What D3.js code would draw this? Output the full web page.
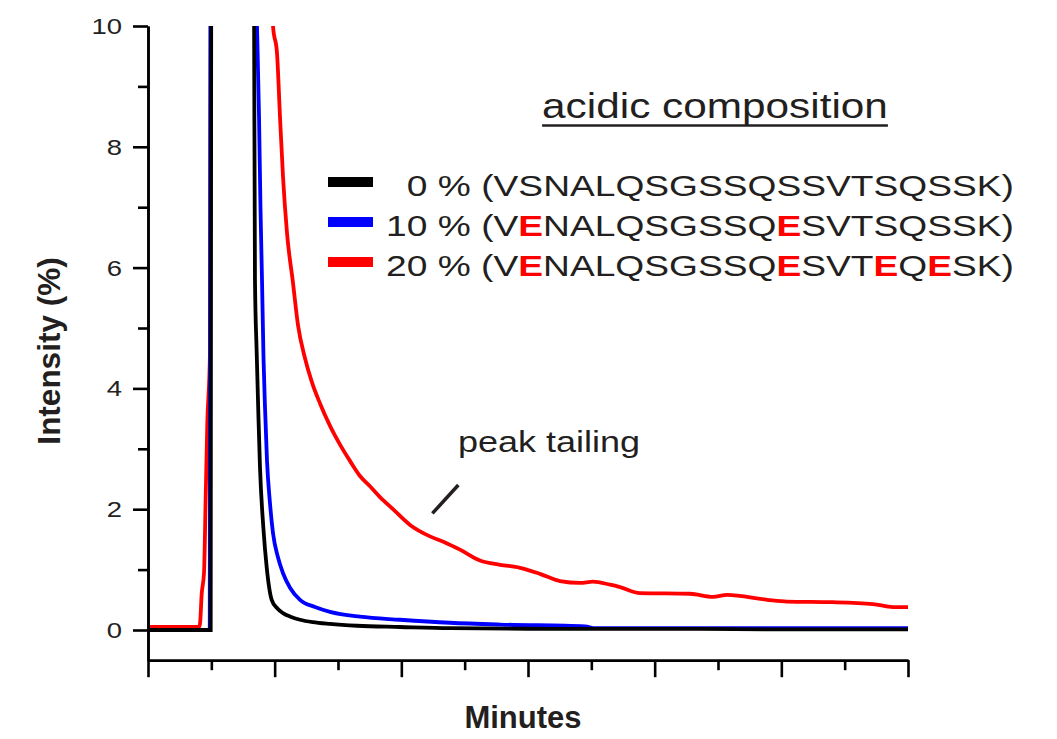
<!DOCTYPE html>
<html>
<head>
<meta charset="utf-8">
<script src="https://cdn.jsdelivr.net/npm/d3@7"></script>
<style>
  html, body { margin: 0; padding: 0; background: #fff; }
  svg { display: block; font-family: "Liberation Sans", Arial, sans-serif; }
</style>
</head>
<body>
<svg id="chart" width="1057" height="739"></svg>
<script>
// ---- data (x in minutes-like units on an unlabeled 0–12 axis, y in %) ----
const seriesNames = ["0 %", "10 %", "20 %"];
const sequences = [
  "VSNALQSGSSQSSVTSQSSK",
  "VENALQSGSSQESVTSQSSK",
  "VENALQSGSSQESVTEQESK"
];
const seriesColors = ["#000000", "#0000ff", "#ff0000"];

const blackX = [0, 0.990, 0.998, 1.33, 1.674, 1.689, 1.716, 1.742, 1.768, 1.821, 1.874, 1.953, 2.04, 2.132, 2.25, 2.400, 2.60, 2.874, 3.3, 3.979, 4.768, 6.347, 8.716, 9.821, 12];
const blackY = [0, 0, 10.5, 50, 10.5, 5.8, 4.6, 3.6, 2.7, 1.7, 1.04, 0.5, 0.36, 0.28, 0.22, 0.17, 0.13, 0.1, 0.07, 0.05, 0.03, 0.02, 0.02, 0.01, 0.01];

const blueX = [0, 0.975, 0.985, 1.35, 1.710, 1.721, 1.753, 1.776, 1.800, 1.824, 1.847, 1.879, 1.926, 1.974, 2.053, 2.132, 2.242, 2.400, 2.637, 2.874, 3.347, 3.979, 4.768, 5.558, 6.900, 7.058, 12];
const blueY = [0, 0, 10.5, 50, 10.5, 10, 8.5, 7, 5.8, 4.5, 3.7, 2.8, 2.1, 1.6, 1.2, 0.94, 0.7, 0.5, 0.38, 0.3, 0.22, 0.17, 0.12, 0.09, 0.06, 0.03, 0.03];

const redX = [0, 0.805, 0.821, 0.848, 0.884, 0.911, 0.936, 0.979, 0.987, 0.995, 1.45, 1.974, 2.037, 2.084, 2.132, 2.195, 2.289, 2.368, 2.479, 2.589, 2.716, 2.874, 3.032, 3.189, 3.347, 3.505, 3.663, 3.868, 4.137, 4.453, 4.689, 4.926, 5.242, 5.558, 5.874, 6.189, 6.505, 6.821, 7.026, 7.295, 7.453, 7.768, 8.558, 8.921, 9.142, 9.774, 10.089, 10.816, 11.447, 11.763, 12];
const redY = [0.05, 0.05, 0.1, 0.6, 0.94, 2.2, 3.4, 4.6, 8.3, 10.5, 60, 10, 9.55, 8.5, 7.5, 6.57, 5.75, 5.05, 4.5, 4.1, 3.75, 3.38, 3.07, 2.8, 2.55, 2.38, 2.2, 2.0, 1.74, 1.55, 1.45, 1.33, 1.15, 1.08, 1.03, 0.93, 0.81, 0.78, 0.8, 0.75, 0.71, 0.61, 0.6, 0.55, 0.58, 0.5, 0.47, 0.46, 0.43, 0.38, 0.38];

const yMajorTicks = [0, 2, 4, 6, 8, 10];
const yMinorTicks = [1, 3, 5, 7, 9];
const xMajorTicks = [0, 2, 4, 6, 8, 10, 12];
const xMinorTicks = [1, 3, 5, 7, 9, 11];

const legendTitle = "acidic composition";
const annotationText = "peak tailing";
const annotationLine = [[4.49, 1.93], [4.9, 2.4]];
const xTitle = "Minutes";
const yTitle = "Intensity (%)";

// ---- layout ----
const svg = d3.select("#chart");
const pLeft = 148, pRight = 908, pTop = 26, pBottom = 660.2;
const textColor = "#231f20";

const x = d3.scaleLinear().domain([0, 12]).range([pLeft, pRight]);
const y = d3.scaleLinear().domain([-0.5, 10]).range([pBottom, pTop]);

svg.append("defs").append("clipPath").attr("id", "plotclip")
  .append("rect").attr("x", pLeft).attr("y", pTop)
  .attr("width", pRight - pLeft + 2).attr("height", pBottom - pTop);

// ---- lines ----
const series = [
  { xs: redX, ys: redY, color: seriesColors[2] },
  { xs: blueX, ys: blueY, color: seriesColors[1] },
  { xs: blackX, ys: blackY, color: seriesColors[0] }
];
const line = d3.line().x(d => x(d[0])).y(d => y(d[1])).curve(d3.curveMonotoneX);
const plot = svg.append("g").attr("clip-path", "url(#plotclip)");
series.forEach(s => {
  const pts = s.xs.map((v, i) => [v, s.ys[i]]);
  plot.append("path").datum(pts)
    .attr("d", line)
    .attr("fill", "none")
    .attr("stroke", s.color)
    .attr("stroke-width", 3.8)
    .attr("stroke-linejoin", "miter")
    .attr("stroke-miterlimit", 2);
});

// ---- axes ----
function styleAxis(g) {
  g.selectAll("path.domain").attr("stroke", "#000").attr("stroke-width", 2.6);
  g.selectAll(".tick line").attr("stroke", "#000").attr("stroke-width", 2.6);
  g.selectAll(".tick text").remove();
}
svg.append("g").attr("transform", `translate(${pLeft},0)`)
  .call(d3.axisLeft(y).tickValues(yMajorTicks).tickSize(15).tickSizeOuter(0).tickFormat(""))
  .call(styleAxis);
svg.append("g").attr("transform", `translate(${pLeft},0)`)
  .call(d3.axisLeft(y).tickValues(yMinorTicks).tickSize(10).tickSizeOuter(0).tickFormat(""))
  .call(styleAxis);
svg.append("g").attr("transform", `translate(0,${pBottom})`)
  .call(d3.axisBottom(x).tickValues(xMajorTicks).tickSize(17).tickSizeOuter(0).tickFormat(""))
  .call(styleAxis);
svg.append("g").attr("transform", `translate(0,${pBottom})`)
  .call(d3.axisBottom(x).tickValues(xMinorTicks).tickSize(10).tickSizeOuter(0).tickFormat(""))
  .call(styleAxis);

// y tick labels
svg.append("g").selectAll("text").data(yMajorTicks).join("text")
  .attr("transform", d => `translate(122,${y(d) + 8}) scale(1.22,1)`)
  .attr("text-anchor", "end")
  .attr("font-size", 22.5)
  .attr("fill", "#222")
  .text(d => d);

// axis titles
svg.append("text")
  .attr("transform", `translate(523,728)`)
  .attr("text-anchor", "middle")
  .attr("font-size", 31).attr("font-weight", "bold").attr("fill", textColor)
  .text(xTitle);
svg.append("text")
  .attr("transform", `translate(60,351) rotate(-90)`)
  .attr("text-anchor", "middle")
  .attr("font-size", 31.5).attr("font-weight", "bold").attr("fill", textColor)
  .text(yTitle);

// ---- legend ----
const titleText = svg.append("text")
  .attr("transform", `translate(715,118) scale(1.21,1)`)
  .attr("text-anchor", "middle")
  .attr("font-size", 35).attr("fill", textColor)
  .text(legendTitle);
const bb = titleText.node().getBoundingClientRect();
svg.append("line")
  .attr("x1", bb.left).attr("x2", bb.right)
  .attr("y1", 125.5).attr("y2", 125.5)
  .attr("stroke", textColor).attr("stroke-width", 2.6);

const rowBaselines = [196, 236, 276];
seriesNames.forEach((name, i) => {
  const by = rowBaselines[i];
  svg.append("rect")
    .attr("x", 328).attr("y", by - 19).attr("width", 45).attr("height", 10)
    .attr("fill", seriesColors[i]);
  const t = svg.append("text")
    .attr("transform", `translate(1014,${by}) scale(1.26,1)`)
    .attr("text-anchor", "end")
    .attr("font-size", 29.5).attr("fill", textColor);
  t.append("tspan").text(name + " (");
  const seq = sequences[i];
  let buf = "";
  const flush = () => { if (buf) { t.append("tspan").text(buf); buf = ""; } };
  for (const ch of seq) {
    if (ch === "E") {
      flush();
      t.append("tspan").attr("fill", "#ff0000").attr("font-weight", "bold").text("E");
    } else buf += ch;
  }
  buf += ")";
  flush();
});

// ---- annotation ----
svg.append("line")
  .attr("x1", x(annotationLine[0][0])).attr("y1", y(annotationLine[0][1]))
  .attr("x2", x(annotationLine[1][0])).attr("y2", y(annotationLine[1][1]))
  .attr("stroke", textColor).attr("stroke-width", 3.5);
svg.append("text")
  .attr("transform", `translate(458,452) scale(1.2,1)`)
  .attr("font-size", 30).attr("fill", textColor)
  .text(annotationText);
</script>
</body>
</html>
